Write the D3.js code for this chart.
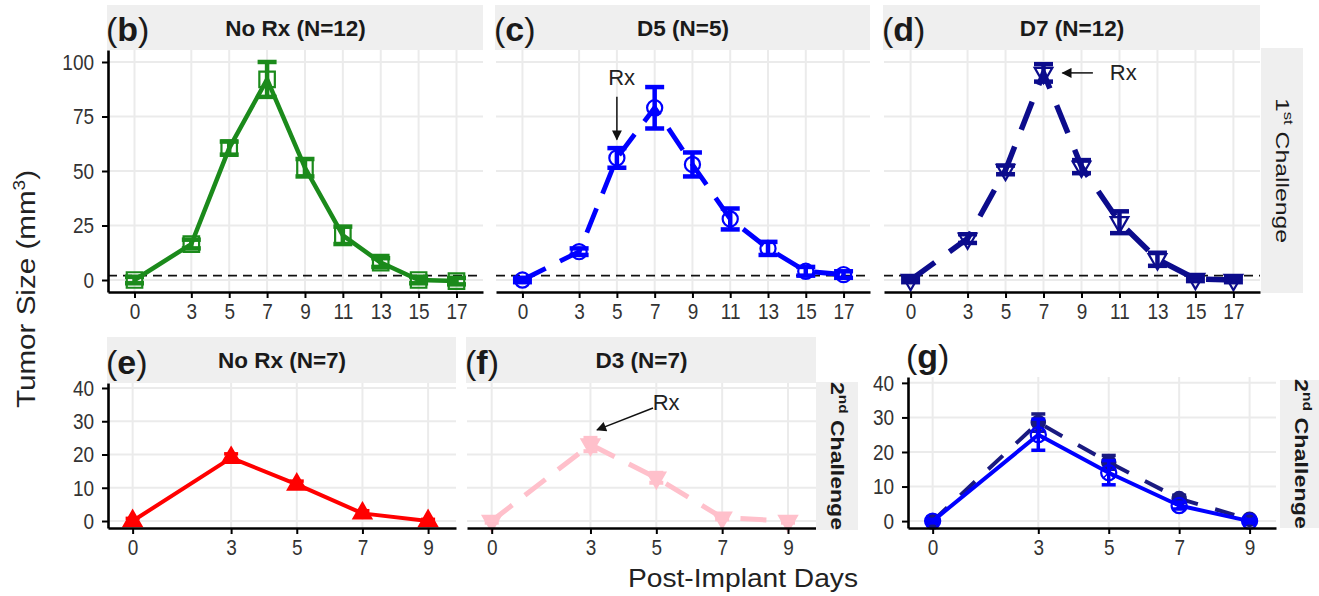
<!DOCTYPE html>
<html>
<head>
<meta charset="utf-8">
<script src="https://cdn.jsdelivr.net/npm/d3@7"></script>
<style>
  body { margin: 0; background: #fff; }
  text { font-family: "Liberation Sans", Arial, sans-serif; }
  .tick text { fill: #333; font-size: 19px; transform-box: fill-box; transform-origin: center; transform: scaleY(1.2); }
</style>
</head>
<body>
<svg id="chart" width="1319" height="596"></svg>
<script>
// days & ticks
const daysTop = [0, 3, 5, 7, 9, 11, 13, 15, 17]
const daysBottom = [0, 3, 5, 7, 9]
const yTicksTop = [0, 25, 50, 75, 100]
const yTicksBottom = [0, 10, 20, 30, 40]

// 1st challenge
const noRx1Mean = [0, 16.5, 60.5, 92, 51.5, 20.5, 8, 0, -0.5]
const noRx1Err = [1.5, 2, 3, 8, 4, 4, 2, 1.5, 1.5]
const d5Mean = [0, 13, 56, 79, 53, 28, 14.5, 4, 2.5]
const d5Err = [1, 1.5, 4.5, 9.5, 5.5, 4.8, 3, 2, 1.5]
const d7Mean = [0, 19, 50.5, 95, 52, 26.5, 9.5, 0.5, 0]
const d7Err = [1, 2, 2, 4, 3, 5, 3, 1, 1]

// 2nd challenge
const noRx2Mean = [0, 19, 11, 2.3, 0]
const noRx2Err = [0.8, 1.2, 1, 0.8, 0.5]
const d3Mean = [0, 23, 13, 1, 0]
const d3Err = [0.5, 2, 1.5, 0.5, 0.5]
const gSolidMean = [0, 25, 14, 4.5, 0]
const gSolidErr = [0.5, 4.5, 3.5, 1, 0.5]
const gDashMean = [0, 28.5, 17, 6.5, 0.5]
const gDashErr = [0.5, 2.5, 2, 1, 0.5]

const zeroRef = 2

const svg = d3.select('#chart')

const defs = svg.append('defs')
defs.append('marker')
  .attr('id', 'arrow')
  .attr('viewBox', '0 0 10 10')
  .attr('refX', 9)
  .attr('refY', 5)
  .attr('markerUnits', 'userSpaceOnUse')
  .attr('markerWidth', 12)
  .attr('markerHeight', 10)
  .attr('orient', 'auto')
  .append('path')
  .attr('d', 'M0,0 L10,5 L0,10 Z')
  .attr('fill', '#111')

const symbolFor = (shape) => {
  if (shape === 'square') return d3.symbol().type(d3.symbolSquare).size(240)()
  if (shape === 'circle') return d3.symbol().type(d3.symbolCircle).size(180)()
  if (shape === 'dot') return d3.symbol().type(d3.symbolCircle).size(140)()
  return d3.symbol().type(d3.symbolTriangle).size(135)()
}

const panels = [
  { label: 'b', title: 'No Rx (N=12)', box: [108, 50, 483, 292], strip: [5, 50], labelY: 41,
    xDom: [-1.4, 18.4], yDom: [-5.5, 105.5], days: daysTop, yTicks: yTicksTop, showY: true, zero: true, cap: 19, capW: 4.5,
    series: [{ mean: noRx1Mean, err: noRx1Err, color: '#1b8a1b', dash: null, shape: 'square', fill: 'none', lw: 4.5 }] },
  { label: 'c', title: 'D5 (N=5)', box: [496, 50, 870, 292], strip: [5, 50], labelY: 41,
    xDom: [-1.4, 18.4], yDom: [-5.5, 105.5], days: daysTop, yTicks: yTicksTop, showY: false, zero: true, cap: 19, capW: 4.5,
    series: [{ mean: d5Mean, err: d5Err, color: '#0000ff', dash: '26,16', shape: 'circle', fill: 'none', lw: 4.8 }],
    rx: { text: [5.25, 93], from: [5, 84], to: [5, 64.5] } },
  { label: 'd', title: 'D7 (N=12)', box: [884, 50, 1260, 292], strip: [5, 50], labelY: 41,
    xDom: [-1.4, 18.4], yDom: [-5.5, 105.5], days: daysTop, yTicks: yTicksTop, showY: false, zero: true, cap: 19, capW: 4.5,
    series: [{ mean: d7Mean, err: d7Err, color: '#0c0c8c', dash: '30,18', shape: 'triDown', fill: 'none', lw: 5.5 }],
    rx: { text: [11.2, 95], from: [9.6, 95], to: [8.0, 95] } },
  { label: 'e', title: 'No Rx (N=7)', box: [108, 383, 456, 528], strip: [337, 383], labelY: 374,
    xDom: [-0.75, 9.85], yDom: [-2.1, 41.5], days: daysBottom, yTicks: yTicksBottom, showY: true, zero: false, cap: 14, capW: 3.5,
    series: [{ mean: noRx2Mean, err: noRx2Err, color: '#ff0000', dash: null, shape: 'triUp', fill: '#ff0000', lw: 4 }] },
  { label: 'f', title: 'D3 (N=7)', box: [467, 383, 816, 528], strip: [337, 383], labelY: 374,
    xDom: [-0.75, 9.85], yDom: [-2.1, 41.5], days: daysBottom, yTicks: yTicksBottom, showY: false, zero: false, cap: 14, capW: 4,
    series: [{ mean: d3Mean, err: d3Err, color: '#ffc0cb', dash: '26,16', shape: 'triDown', fill: '#ffc0cb', lw: 5 }],
    rx: { text: [5.3, 35.5], from: [4.9, 34], to: [3.2, 27.4] } },
  { label: 'g', title: null, box: [908, 377, 1276, 528], strip: null, labelY: 368,
    xDom: [-0.7, 9.75], yDom: [-2, 41.7], days: daysBottom, yTicks: yTicksBottom, showY: true, zero: false, cap: 14, capW: 3.5,
    series: [
      { mean: gDashMean, err: gDashErr, color: '#1a1a80', dash: '20,18', shape: 'dot', fill: '#1a1a80', lw: 4 },
      { mean: gSolidMean, err: gSolidErr, color: '#0000ff', dash: null, shape: 'circle', fill: 'none', lw: 4 }
    ] }
]

const drawPanel = (p) => {
  const [x0, y0, x1, y1] = p.box
  const x = d3.scaleLinear().domain(p.xDom).range([x0, x1])
  const y = d3.scaleLinear().domain(p.yDom).range([y1, y0])
  const g = svg.append('g').attr('class', 'panel-' + p.label)

  if (p.strip) {
    g.append('rect')
      .attr('x', x0 - 1).attr('y', p.strip[0])
      .attr('width', x1 - x0 + 1).attr('height', p.strip[1] - p.strip[0])
      .attr('fill', '#efefef')
    g.append('text')
      .attr('x', (x0 + x1) / 2).attr('y', (p.strip[0] + p.strip[1]) / 2 + 8)
      .attr('text-anchor', 'middle')
      .attr('font-size', 22.5).attr('font-weight', 'bold').attr('fill', '#1a1a1a')
      .text(p.title)
  }

  // grid
  g.selectAll('.vgrid').data(p.days).join('line').attr('class', 'vgrid')
    .attr('x1', d => x(d)).attr('x2', d => x(d)).attr('y1', y0).attr('y2', y1)
    .attr('stroke', '#ebebeb').attr('stroke-width', 2)
  g.selectAll('.hgrid').data(p.yTicks).join('line').attr('class', 'hgrid')
    .attr('x1', x0).attr('x2', x1).attr('y1', d => y(d)).attr('y2', d => y(d))
    .attr('stroke', '#ebebeb').attr('stroke-width', 2)

  if (p.zero) {
    g.append('line')
      .attr('x1', x0).attr('x2', x1).attr('y1', y(zeroRef)).attr('y2', y(zeroRef))
      .attr('stroke', '#111').attr('stroke-width', 1.6).attr('stroke-dasharray', '9,6')
  }

  p.series.forEach(s => {
    const pts = p.days.map((d, i) => ({ day: d, m: s.mean[i], e: s.err[i] }))
    const line = d3.line().x(d => x(d.day)).y(d => y(d.m))
    g.append('path')
      .datum(pts)
      .attr('d', line)
      .attr('fill', 'none')
      .attr('stroke', s.color)
      .attr('stroke-width', s.lw)
      .attr('stroke-linejoin', 'round')
      .attr('stroke-dasharray', s.dash)

    const eb = g.append('g').attr('stroke', s.color).attr('stroke-width', p.capW)
    eb.selectAll('.ev').data(pts).join('line').attr('class', 'ev')
      .attr('x1', d => x(d.day)).attr('x2', d => x(d.day))
      .attr('y1', d => y(d.m - d.e)).attr('y2', d => y(d.m + d.e))
    eb.selectAll('.ct').data(pts).join('line').attr('class', 'ct')
      .attr('x1', d => x(d.day) - p.cap / 2).attr('x2', d => x(d.day) + p.cap / 2)
      .attr('y1', d => y(d.m + d.e)).attr('y2', d => y(d.m + d.e))
    eb.selectAll('.cb').data(pts).join('line').attr('class', 'cb')
      .attr('x1', d => x(d.day) - p.cap / 2).attr('x2', d => x(d.day) + p.cap / 2)
      .attr('y1', d => y(d.m - d.e)).attr('y2', d => y(d.m - d.e))

    g.selectAll('.pt-' + s.shape).data(pts).join('path').attr('class', 'pt-' + s.shape)
      .attr('d', symbolFor(s.shape))
      .attr('transform', d => `translate(${x(d.day)},${y(d.m)})` + (s.shape === 'triDown' ? ' rotate(180)' : ''))
      .attr('fill', s.fill)
      .attr('stroke', s.color)
      .attr('stroke-width', 2.2)
    if (s.shape === 'circle' && p.label === 'g') {
      g.selectAll('.gx').data(pts).join('path').attr('class', 'gx')
        .attr('d', d3.symbol().type(d3.symbolTimes).size(90)())
        .attr('transform', d => `translate(${x(d.day)},${y(d.m)})`)
        .attr('fill', 'none').attr('stroke', s.color).attr('stroke-width', 1.5)
    }
  })

  if (p.rx) {
    g.append('line')
      .attr('x1', x(p.rx.from[0])).attr('y1', y(p.rx.from[1]))
      .attr('x2', x(p.rx.to[0])).attr('y2', y(p.rx.to[1]))
      .attr('stroke', '#111').attr('stroke-width', 1.5)
      .attr('marker-end', 'url(#arrow)')
    g.append('text')
      .attr('x', x(p.rx.text[0])).attr('y', y(p.rx.text[1]))
      .attr('text-anchor', 'middle').attr('dominant-baseline', 'central')
      .attr('font-size', 22).attr('fill', '#222')
      .text('Rx')
  }

  // axes
  const xa = g.append('g')
    .attr('transform', `translate(0,${y1})`)
    .call(d3.axisBottom(x).tickValues(p.days).tickSize(6).tickSizeOuter(0).tickPadding(6))
  xa.select('.domain').attr('stroke', '#000').attr('stroke-width', 2.6)
  xa.selectAll('.tick line').attr('stroke', '#000').attr('stroke-width', 2)

  if (p.showY) {
    const ya = g.append('g')
      .attr('transform', `translate(${x0},0)`)
      .call(d3.axisLeft(y).tickValues(p.yTicks).tickSize(6).tickSizeOuter(0).tickPadding(8))
    ya.select('.domain').attr('stroke', '#000').attr('stroke-width', 2.6)
    ya.selectAll('.tick line').attr('stroke', '#000').attr('stroke-width', 2)
  }

  // panel label
  const lab = g.append('text')
    .attr('x', x0 - 2).attr('y', p.labelY)
    .attr('font-size', 34).attr('fill', '#1a1a1a')
  lab.append('tspan').text('(')
  lab.append('tspan').attr('font-weight', 'bold').text(p.label)
  lab.append('tspan').text(')')
}

panels.forEach(drawPanel)

// right-hand strips
const sideStrips = [
  { x: 1261, y0: 48, y1: 293, w: 42, num: '1', sup: 'st', len: 145, weight: 'normal' },
  { x: 816, y0: 382, y1: 530, w: 42, num: '2', sup: 'nd', len: 148, weight: 'bold' },
  { x: 1280, y0: 380, y1: 528, w: 45, num: '2', sup: 'nd', len: 150, weight: 'bold' }
]
sideStrips.forEach(s => {
  svg.append('rect')
    .attr('x', s.x).attr('y', s.y0).attr('width', s.w).attr('height', s.y1 - s.y0)
    .attr('fill', '#efefef')
  const t = svg.append('text')
    .attr('transform', `translate(${s.x + 21},${(s.y0 + s.y1) / 2}) rotate(90)`)
    .attr('text-anchor', 'middle').attr('dominant-baseline', 'central')
    .attr('font-size', 18).attr('font-weight', s.weight).attr('fill', '#1a1a1a')
    .attr('textLength', s.len).attr('lengthAdjust', 'spacingAndGlyphs')
  t.append('tspan').text(s.num)
  t.append('tspan').attr('font-size', 12).attr('dy', -6).text(s.sup)
  t.append('tspan').attr('dy', 6).text(' Challenge')
})

// axis titles
const yTitle = svg.append('text')
  .attr('transform', 'translate(35,289) rotate(-90)')
  .attr('text-anchor', 'middle')
  .attr('font-size', 25).attr('fill', '#222')
  .attr('textLength', 238).attr('lengthAdjust', 'spacingAndGlyphs')
yTitle.append('tspan').text('Tumor Size (mm')
yTitle.append('tspan').attr('font-size', 16).attr('dy', -10).text('3')
yTitle.append('tspan').attr('dy', 10).text(')')

svg.append('text')
  .attr('x', 743).attr('y', 587)
  .attr('text-anchor', 'middle')
  .attr('font-size', 26).attr('fill', '#222')
  .attr('textLength', 230).attr('lengthAdjust', 'spacingAndGlyphs')
  .text('Post-Implant Days')
</script>
</body>
</html>
